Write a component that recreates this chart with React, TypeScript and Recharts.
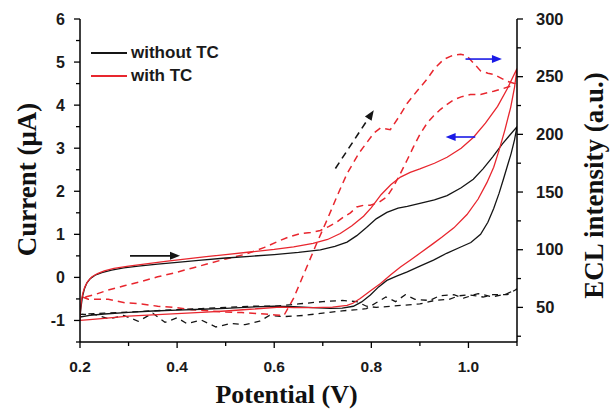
import React from 'react';
import { LineChart, Line, XAxis, YAxis, ReferenceLine } from 'recharts';

// Axis ticks
const potentialTicks = [0.2, 0.3, 0.4, 0.5, 0.6, 0.7, 0.8, 0.9, 1.0, 1.1];
const potentialLabels = [0.2, 0.4, 0.6, 0.8, 1.0];
const currentTicks = [-1.5, -1, -0.5, 0, 0.5, 1, 1.5, 2, 2.5, 3, 3.5, 4, 4.5, 5, 5.5, 6];
const currentLabels = [-1, 0, 1, 2, 3, 4, 5, 6];
const eclTicks = [25, 50, 75, 100, 125, 150, 175, 200, 225, 250, 275, 300];
const eclLabels = [50, 100, 150, 200, 250, 300];

// CV without TC: [potential V, current µA]
const cvWithoutTC: [number, number][] = [
  [0.2, -0.92], [0.202, -0.7], [0.205, -0.45], [0.209, -0.27], [0.214, -0.13], [0.221, -0.03], [0.231, 0.05],
  [0.245, 0.11], [0.265, 0.17], [0.29, 0.22], [0.32, 0.26], [0.36, 0.31], [0.4, 0.35], [0.45, 0.4], [0.5, 0.45],
  [0.55, 0.49], [0.6, 0.53], [0.65, 0.58], [0.695, 0.64], [0.725, 0.72], [0.75, 0.82], [0.77, 0.97], [0.79, 1.16],
  [0.81, 1.36], [0.832, 1.51], [0.855, 1.61], [0.874, 1.65], [0.9, 1.72], [0.93, 1.8], [0.956, 1.9], [0.985, 2.08],
  [1.01, 2.28], [1.03, 2.52], [1.05, 2.8], [1.07, 3.1], [1.085, 3.3], [1.1, 3.5],
  [1.095, 3.2], [1.088, 2.88], [1.08, 2.58], [1.072, 2.28], [1.063, 1.95], [1.052, 1.6], [1.04, 1.28], [1.025, 1.0],
  [1.005, 0.81], [0.983, 0.7], [0.955, 0.56], [0.928, 0.4], [0.9, 0.26], [0.874, 0.13], [0.852, 0.03], [0.832, -0.07],
  [0.815, -0.22], [0.798, -0.41], [0.78, -0.57], [0.763, -0.67], [0.74, -0.715], [0.715, -0.72], [0.68, -0.7],
  [0.64, -0.68], [0.6, -0.67], [0.55, -0.69], [0.5, -0.72], [0.45, -0.74], [0.4, -0.76], [0.35, -0.78], [0.3, -0.81],
  [0.25, -0.85], [0.22, -0.88], [0.2, -0.92],
];

// CV with TC: [potential V, current µA]
const cvWithTC: [number, number][] = [
  [0.2, -1.0], [0.201, -0.75], [0.203, -0.52], [0.206, -0.36], [0.21, -0.22], [0.216, -0.09], [0.224, 0.01],
  [0.236, 0.09], [0.25, 0.15], [0.27, 0.21], [0.3, 0.26], [0.34, 0.32], [0.38, 0.38], [0.42, 0.43], [0.46, 0.48],
  [0.5, 0.53], [0.55, 0.59], [0.6, 0.65], [0.64, 0.71], [0.68, 0.79], [0.71, 0.88], [0.736, 1.02], [0.76, 1.2],
  [0.784, 1.42], [0.8, 1.62], [0.82, 1.92], [0.84, 2.15], [0.86, 2.33], [0.88, 2.44], [0.9, 2.52], [0.93, 2.65],
  [0.956, 2.79], [0.985, 3.0], [1.01, 3.25], [1.035, 3.58], [1.06, 3.97], [1.08, 4.38], [1.1, 4.85],
  [1.095, 4.42], [1.087, 3.95], [1.075, 3.42], [1.063, 2.95], [1.052, 2.56], [1.038, 2.2], [1.02, 1.82], [0.997, 1.46],
  [0.97, 1.15], [0.945, 0.93], [0.928, 0.79], [0.9, 0.56], [0.88, 0.4], [0.86, 0.24], [0.84, 0.06], [0.819, -0.14],
  [0.797, -0.32], [0.777, -0.49], [0.762, -0.6], [0.75, -0.65], [0.72, -0.69], [0.68, -0.7], [0.64, -0.7],
  [0.612, -0.69], [0.55, -0.74], [0.5, -0.78], [0.45, -0.81], [0.4, -0.84], [0.35, -0.87], [0.3, -0.9], [0.25, -0.95],
  [0.22, -0.98], [0.2, -1.0],
];

// ECL without TC: [potential V, ECL a.u.]
const eclWithoutTC: [number, number][] = [
  [0.2, 44], [0.23, 44], [0.26, 40], [0.29, 43], [0.32, 38], [0.35, 45], [0.375, 37], [0.4, 41], [0.42, 36],
  [0.45, 39], [0.48, 33], [0.51, 36], [0.54, 35], [0.57, 38], [0.59, 43], [0.62, 42], [0.66, 43], [0.7, 45],
  [0.74, 47], [0.77, 48], [0.79, 49], [0.81, 54], [0.83, 59], [0.85, 55], [0.87, 61], [0.89, 57], [0.92, 56],
  [0.94, 60], [0.97, 61], [0.99, 58], [1.02, 62], [1.05, 59], [1.08, 62], [1.1, 66],
  [1.08, 61], [1.05, 61], [1.03, 59], [1.0, 61], [0.98, 60], [0.96, 57], [0.93, 56], [0.9, 53], [0.87, 52],
  [0.84, 51], [0.81, 50], [0.79, 51], [0.77, 55], [0.74, 56], [0.7, 55], [0.65, 53], [0.6, 51], [0.55, 51],
  [0.5, 50], [0.45, 49], [0.4, 48], [0.35, 47], [0.3, 46], [0.25, 45], [0.2, 44],
];

// ECL with TC: [potential V, ECL a.u.]
const eclWithTC: [number, number][] = [
  [0.205, 59], [0.217, 57], [0.24, 57], [0.258, 57], [0.293, 54], [0.327, 53], [0.36, 51], [0.396, 50], [0.43, 48],
  [0.465, 47], [0.5, 46], [0.533, 45.5], [0.57, 44.5], [0.602, 43.5], [0.62, 43], [0.64, 58], [0.66, 78], [0.688, 106],
  [0.709, 126], [0.73, 147], [0.75, 166], [0.775, 184], [0.805, 201], [0.819, 205.5], [0.839, 204], [0.855, 214],
  [0.874, 227], [0.895, 238], [0.915, 248], [0.93, 257], [0.949, 265], [0.965, 268], [0.984, 269.5], [0.997, 268],
  [1.01, 262], [1.025, 255], [1.04, 253], [1.052, 252], [1.066, 249], [1.08, 246], [1.095, 244],
  [1.087, 241.8], [1.07, 239.5], [1.052, 237.4], [1.025, 234.6], [1.004, 234.6], [0.985, 232.5], [0.97, 230],
  [0.956, 226], [0.942, 221.5], [0.928, 216], [0.915, 209.8], [0.9, 200], [0.887, 189.4], [0.874, 178], [0.86, 166.2],
  [0.846, 155], [0.832, 145.8], [0.815, 141], [0.798, 138.6], [0.784, 138.5], [0.77, 137], [0.757, 132], [0.743, 128.4],
  [0.729, 124], [0.712, 120], [0.695, 116.7], [0.675, 115], [0.654, 114], [0.63, 111], [0.612, 108], [0.58, 102],
  [0.54, 96], [0.5, 92], [0.465, 88], [0.43, 84], [0.395, 80], [0.36, 76.5], [0.327, 72.5], [0.293, 69], [0.258, 65],
  [0.23, 61], [0.21, 59], [0.205, 59],
];

// Scan-direction arrows (data coordinates on the current axis): [x1, y1, x2, y2]
const arrowBlackSolid = [0.303, 0.5, 0.406, 0.5];
const arrowBlackDashed = [0.726, 2.53, 0.805, 3.88];
const arrowBlueRight = [0.994, 5.07, 1.069, 5.07];
const arrowBlueLeft = [1.014, 3.26, 0.953, 3.26];

const BLACK = '#151515';
const RED = '#e8262e';
const BLUE = '#1a1ae6';
const SANS = '"Liberation Sans", Arial, Helvetica, sans-serif';
const SERIF = '"Liberation Serif", "Times New Roman", Times, serif';

const toPts = (arr: [number, number][]) => arr.map(([v, y]) => ({ v, y }));

const makeArrow = (color: string, dashed: boolean) => (p: any) => {
  const { x1, y1, x2, y2 } = p;
  const dx = x2 - x1;
  const dy = y2 - y1;
  const len = Math.hypot(dx, dy) || 1;
  const ux = dx / len;
  const uy = dy / len;
  const hl = 10;
  const hw = 4;
  const bx = x2 - ux * hl;
  const by = y2 - uy * hl;
  return (
    <g>
      <line x1={x1} y1={y1} x2={bx + ux * 1} y2={by + uy * 1} stroke={color} strokeWidth={1.6}
        strokeDasharray={dashed ? '7 5' : undefined} />
      <polygon points={`${x2},${y2} ${bx - uy * hw},${by + ux * hw} ${bx + uy * hw},${by - ux * hw}`} fill={color} />
    </g>
  );
};

const BottomTick = (p: any) => {
  const { x, y, payload } = p;
  const major = potentialLabels.includes(payload.value);
  return (
    <g>
      <line x1={x} y1={y} x2={x} y2={y + (major ? 6 : 4)} stroke="#000" strokeWidth={1.3} />
      {major && (
        <text x={x} y={y + 30} textAnchor="middle" fontFamily={SANS} fontWeight="bold" fontSize={15.5} fill="#1a1a1a">
          {payload.value.toFixed(1)}
        </text>
      )}
    </g>
  );
};

const LeftTick = (p: any) => {
  const { x, y, payload } = p;
  const major = currentLabels.includes(payload.value);
  return (
    <g>
      <line x1={x} y1={y} x2={x - (major ? 6 : 4)} y2={y} stroke="#000" strokeWidth={1.3} />
      {major && (
        <text x={x - 15} y={y + 5.5} textAnchor="end" fontFamily={SANS} fontWeight="bold" fontSize={16} fill="#1a1a1a">
          {String(payload.value)}
        </text>
      )}
    </g>
  );
};

const RightTick = (p: any) => {
  const { x, y, payload } = p;
  const major = eclLabels.includes(payload.value);
  return (
    <g>
      <line x1={x} y1={y} x2={x + (major ? 6 : 4)} y2={y} stroke="#000" strokeWidth={1.3} />
      {major && (
        <text x={x + 19} y={y + 5.5} textAnchor="start" fontFamily={SANS} fontWeight="bold" fontSize={16.5} fill="#1a1a1a">
          {String(payload.value)}
        </text>
      )}
    </g>
  );
};

const LeftTitle = (p: any) => {
  const vb = p.viewBox || { x: 0, y: 19, width: 80, height: 323 };
  const x = vb.x + 36;
  const y = vb.y + vb.height / 2 - 1;
  return (
    <text x={x} y={y} transform={`rotate(-90 ${x} ${y})`} textAnchor="middle" fontFamily={SERIF}
      fontWeight="bold" fontSize={27} fill="#111">
      Current (μA)
    </text>
  );
};

const RightTitle = (p: any) => {
  const vb = p.viewBox || { x: 517, y: 19, width: 93, height: 323 };
  const x = vb.x + 86;
  const y = vb.y + vb.height / 2 + 5;
  return (
    <text x={x} y={y} transform={`rotate(-90 ${x} ${y})`} textAnchor="middle" fontFamily={SERIF}
      fontWeight="bold" fontSize={27} fill="#111">
      ECL intensity (a.u.)
    </text>
  );
};

const BottomTitle = (p: any) => {
  const vb = p.viewBox || { x: 80, y: 342, width: 437, height: 68 };
  const x = vb.x + vb.width / 2 - 12;
  const y = vb.y + 61;
  return (
    <text x={x} y={y} textAnchor="middle" fontFamily={SERIF} fontWeight="bold" fontSize={26} fill="#111">
      Potential (V)
    </text>
  );
};

const legendItems = [
  { label: 'without TC', color: BLACK },
  { label: 'with TC', color: RED },
];

export default function App() {
  return (
    <div style={{ position: 'absolute', left: 0, top: 0, width: 610, height: 410, background: '#fff' }}>
      <LineChart width={610} height={410} margin={{ top: 19, right: 0, bottom: 0, left: 0 }}>
        <XAxis
          dataKey="v"
          type="number"
          domain={[0.2, 1.1]}
          ticks={potentialTicks}
          interval={0}
          allowDataOverflow
          height={68}
          tickSize={0}
          tickMargin={0}
          tickLine={false}
          axisLine={{ stroke: '#000', strokeWidth: 1.5 }}
          tick={<BottomTick />}
          label={{ content: (p: any) => <BottomTitle {...p} /> }}
        />
        <YAxis
          yAxisId="left"
          type="number"
          domain={[-1.5, 6]}
          ticks={currentTicks}
          interval={0}
          allowDataOverflow
          width={80}
          tickSize={0}
          tickMargin={0}
          tickLine={false}
          axisLine={{ stroke: '#000', strokeWidth: 1.5 }}
          tick={<LeftTick />}
          label={{ content: (p: any) => <LeftTitle {...p} /> }}
        />
        <YAxis
          yAxisId="right"
          orientation="right"
          type="number"
          domain={[20, 300]}
          ticks={eclTicks}
          interval={0}
          allowDataOverflow
          width={93}
          tickSize={0}
          tickMargin={0}
          tickLine={false}
          axisLine={{ stroke: '#000', strokeWidth: 1.5 }}
          tick={<RightTick />}
          label={{ content: (p: any) => <RightTitle {...p} /> }}
        />
        <Line yAxisId="right" data={toPts(eclWithoutTC)} dataKey="y" type="linear" stroke={BLACK} strokeWidth={1.3}
          strokeDasharray="6 5" dot={false} activeDot={false} isAnimationActive={false} legendType="none" />
        <Line yAxisId="right" data={toPts(eclWithTC)} dataKey="y" type="linear" stroke={RED} strokeWidth={1.5}
          strokeDasharray="7 5" dot={false} activeDot={false} isAnimationActive={false} legendType="none" />
        <Line yAxisId="left" data={toPts(cvWithoutTC)} dataKey="y" name="without TC" type="linear" stroke={BLACK}
          strokeWidth={1.3} dot={false} activeDot={false} isAnimationActive={false} />
        <Line yAxisId="left" data={toPts(cvWithTC)} dataKey="y" name="with TC" type="linear" stroke={RED}
          strokeWidth={1.3} dot={false} activeDot={false} isAnimationActive={false} />
        <ReferenceLine yAxisId="left" segment={[{ x: arrowBlackSolid[0], y: arrowBlackSolid[1] }, { x: arrowBlackSolid[2], y: arrowBlackSolid[3] }]}
          shape={makeArrow(BLACK, false)} />
        <ReferenceLine yAxisId="left" segment={[{ x: arrowBlackDashed[0], y: arrowBlackDashed[1] }, { x: arrowBlackDashed[2], y: arrowBlackDashed[3] }]}
          shape={makeArrow(BLACK, true)} />
        <ReferenceLine yAxisId="left" segment={[{ x: arrowBlueRight[0], y: arrowBlueRight[1] }, { x: arrowBlueRight[2], y: arrowBlueRight[3] }]}
          shape={makeArrow(BLUE, false)} />
        <ReferenceLine yAxisId="left" segment={[{ x: arrowBlueLeft[0], y: arrowBlueLeft[1] }, { x: arrowBlueLeft[2], y: arrowBlueLeft[3] }]}
          shape={makeArrow(BLUE, false)} />
      </LineChart>
      <div style={{ position: 'absolute', left: 91, top: 44, fontFamily: SANS, fontWeight: 'bold', fontSize: 17, color: '#1a1a1a' }}>
        {legendItems.map((it, i) => (
          <div key={it.label} style={{ display: 'flex', alignItems: 'center', height: 18, marginBottom: i === 0 ? 5 : 0 }}>
            <div style={{ width: 36, height: 1.5, background: it.color }} />
            <span style={{ marginLeft: 4, lineHeight: '18px', whiteSpace: 'nowrap' }}>{it.label}</span>
          </div>
        ))}
      </div>
    </div>
  );
}
